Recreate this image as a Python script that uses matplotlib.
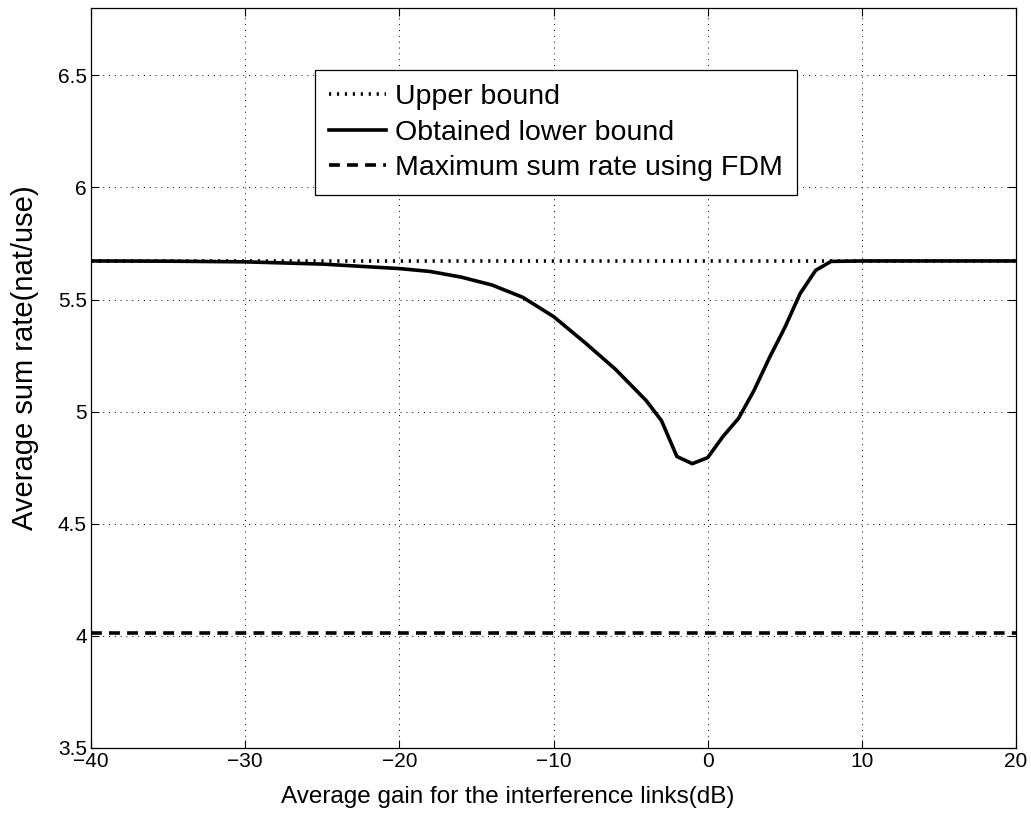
import numpy as np
import matplotlib.pyplot as plt

plt.rcParams['font.family'] = ['Liberation Sans', 'DejaVu Sans']

# average gain for the interference links (dB)
gain = [-40, -35, -30, -25, -20, -18, -16, -14, -12, -10, -8, -6, -4, -3,
        -2, -1, 0, 1, 2, 3, 4, 5, 6, 7, 8, 10, 15, 20]
lower_bound = [5.672, 5.671, 5.668, 5.658, 5.638, 5.625, 5.60, 5.565, 5.51,
               5.424, 5.31, 5.19, 5.05, 4.96, 4.80, 4.768, 4.795, 4.89, 4.97,
               5.094, 5.24, 5.375, 5.527, 5.63, 5.67, 5.672, 5.672, 5.672]
upper_x = [-40, 20]
upper_bound = [5.672, 5.672]
fdm_x = [-40, 20]
fdm_rate = [4.015, 4.015]

fig = plt.figure(figsize=(10.31, 8.18), dpi=100)
ax = fig.add_axes([0.0883, 0.0856, 0.8972, 0.9046])

ax.plot(upper_x, upper_bound, color='black', linestyle=(0, (0.6, 1.6)), lw=2.6,
        label='Upper bound')
ax.plot(gain, lower_bound, color='black', linestyle='-', lw=2.6,
        label='Obtained lower bound')
ax.plot(fdm_x, fdm_rate, color='black', linestyle=(0, (3, 2)), lw=2.6,
        label='Maximum sum rate using FDM')

ax.set_xlim(-40, 20)
ax.set_ylim(3.5, 6.8)
ax.set_xticks(np.arange(-40, 21, 10))
ax.set_yticks(np.arange(3.5, 6.6, 0.5))
ax.set_xticklabels(['\u221240', '\u221230', '\u221220', '\u221210', '0', '10', '20'])
ax.set_yticklabels(['3.5', '4', '4.5', '5', '5.5', '6', '6.5'])
ax.tick_params(direction='in', top=True, right=True, length=6, width=0.8,
               labelsize=15, pad=3)
ax.grid(True, color='black', linestyle=(0, (1, 5)), lw=0.7)
for s in ax.spines.values():
    s.set_linewidth(0.9)

ax.set_xlabel('Average gain for the interference links(dB)', fontsize=17.5)
ax.xaxis.set_label_coords(0.45, -0.051)
ax.set_ylabel('Average sum rate(nat/use)', fontsize=21)
ax.yaxis.set_label_coords(-0.056, 0.528)

leg = ax.legend(loc='upper left', bbox_to_anchor=(0.242, 0.916),
                borderaxespad=0, fontsize=20.5, fancybox=False, framealpha=1,
                edgecolor='black', handlelength=2.0, handletextpad=0.3,
                labelspacing=0.32, borderpad=0.5)
leg.get_frame().set_linewidth(0.9)

fig.savefig('out.png', dpi=100)
